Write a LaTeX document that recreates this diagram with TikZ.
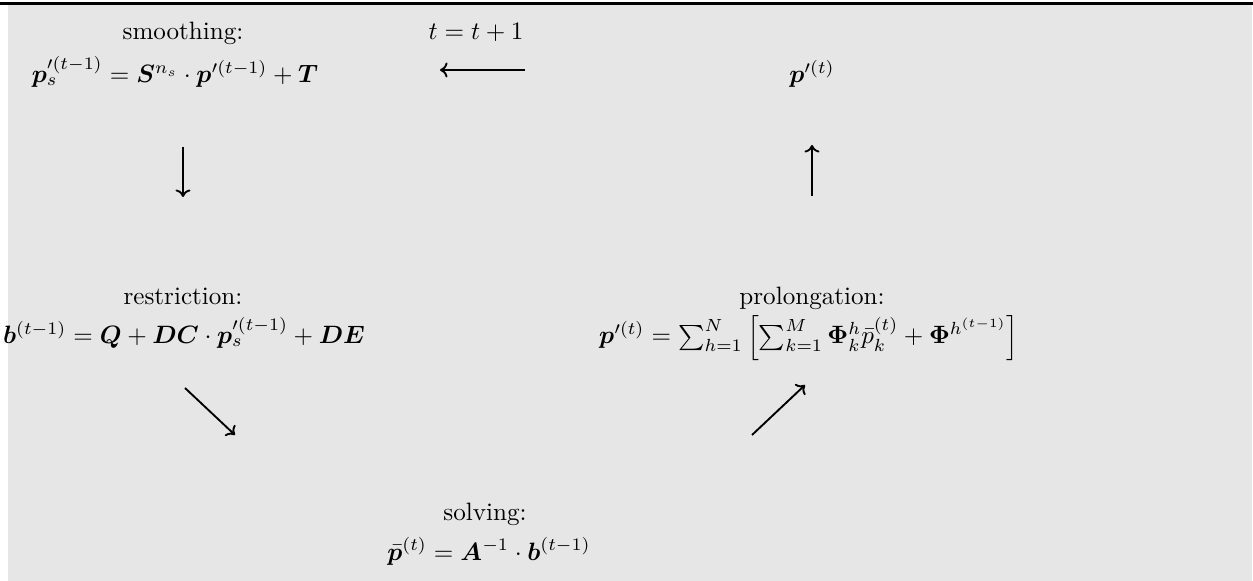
\documentclass[tikz,border=0pt]{standalone}
\usepackage{amsmath,bm}
\usetikzlibrary{arrows.meta}
\definecolor{bgcol}{RGB}{230,230,230}
\begin{document}
\begin{tikzpicture}[x=0.3985pt,y=-0.3985pt,
  lbl/.style={anchor=base, inner sep=0pt},
  arr/.style={-{Computer Modern Rightarrow[width=6pt,length=3pt]}, line width=0.75pt}]
\useasboundingbox (0,0) rectangle (1253,581);
\fill[bgcol] (8,5) rectangle (1252,581);
\draw[line width=1.2pt] (0,3.5) -- (1253,3.5);
% smoothing
\node[lbl] (smL) at (183,40) {smoothing:};
\node[lbl] (smF) at (175,83) {$\boldsymbol{p}_s'^{(t-1)} = \boldsymbol{S}^{n_s}\cdot \boldsymbol{p}'^{(t-1)} + \boldsymbol{T}$};
% iteration
\node[lbl] (it) at (476,40) {$t = t+1$};
\node[lbl] (pt) at (812,83) {$\boldsymbol{p}'^{(t)}$};
% restriction
\node[lbl] (reL) at (183,305) {restriction:};
\node[lbl] (reF) at (184,344) {$\boldsymbol{b}^{(t-1)} = \boldsymbol{Q} + \boldsymbol{D}\boldsymbol{C}\cdot \boldsymbol{p}_s'^{(t-1)} + \boldsymbol{D}\boldsymbol{E}$};
% prolongation
\node[lbl] (prL) at (812,305) {prolongation:};
\node[lbl] (prF) at (809,344) {$\boldsymbol{p}'^{(t)} = \sum_{h=1}^{N}\left[\sum_{k=1}^{M}\boldsymbol{\Phi}_k^h\bar{p}_k^{(t)} + \boldsymbol{\Phi}^{h^{(t-1)}}\right]$};
% solving
\node[lbl] (soL) at (485,520) {solving:};
\node[lbl] (soF) at (489,560) {$\bar{\boldsymbol{p}}^{(t)} = \boldsymbol{A}^{-1}\cdot \boldsymbol{b}^{(t-1)}$};
% arrow end points
\coordinate (a1s) at (525,70);  \coordinate (a1e) at (440,70);
\coordinate (a2s) at (183,147); \coordinate (a2e) at (183,197);
\coordinate (a3s) at (185,388); \coordinate (a3e) at (235,435);
\coordinate (a4s) at (752,435); \coordinate (a4e) at (805,385);
\coordinate (a5s) at (812,196); \coordinate (a5e) at (812,145);
\draw[arr] (a1s) -- (a1e);
\draw[arr] (a2s) -- (a2e);
\draw[arr] (a3s) -- (a3e);
\draw[arr] (a4s) -- (a4e);
\draw[arr] (a5s) -- (a5e);
\end{tikzpicture}
\end{document}
